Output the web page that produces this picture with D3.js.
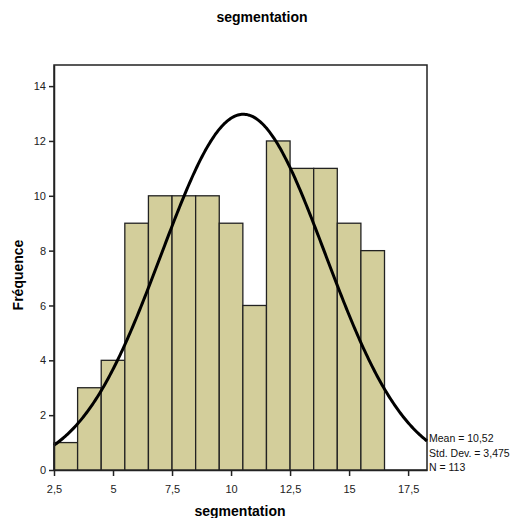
<!DOCTYPE html>
<html><head><meta charset="utf-8">
<script src="https://cdn.jsdelivr.net/npm/d3@7"></script>
<style>body{margin:0;background:#fff;}svg{display:block;font-family:"Liberation Sans",Arial,sans-serif;}</style>
</head><body>
<script>
const binStarts = [2.5,3.5,4.5,5.5,6.5,7.5,8.5,9.5,10.5,11.5,12.5,13.5,14.5,15.5];
const counts = [1,3,4,9,10,10,10,9,6,12,11,11,9,8];
const binWidth = 1;
const xTicks = [2.5,5,7.5,10,12.5,15,17.5];
const yTicks = [0,2,4,6,8,10,12,14];
const mean = 10.52, sd = 3.475, n = 113;
const statLines = ["Mean = 10,52","Std. Dev. = 3,475","N = 113"];

const W=526,H=518;
const svg=d3.select("body").append("svg").attr("width",W).attr("height",H);
const L=54,R=427,T=65,B=470;
const x=d3.scaleLinear().domain([2.5,18.3]).range([L,R]);
const y=d3.scaleLinear().domain([0,14.77]).range([B,T]);
const fmt=d=>String(d).replace(".",",");

svg.append("rect").attr("x",L).attr("y",T).attr("width",R-L).attr("height",B-T)
  .attr("fill","#fff").attr("stroke","#222").attr("stroke-width",1.5);

svg.selectAll("rect.bar").data(binStarts).enter().append("rect").attr("class","bar")
  .attr("x",d=>x(d)).attr("width",d=>x(d+binWidth)-x(d))
  .attr("y",(d,i)=>y(counts[i])).attr("height",(d,i)=>B-y(counts[i]))
  .attr("fill","#d3ce9b").attr("stroke","#222").attr("stroke-width",1.3);

const pdf=v=>n*binWidth/(sd*Math.sqrt(2*Math.PI))*Math.exp(-((v-mean)**2)/(2*sd*sd));
const pts=d3.range(0,301).map(i=>2.5+(18.3-2.5)*i/300);
svg.append("path").attr("d",d3.line().x(v=>x(v)).y(v=>y(pdf(v))).curve(d3.curveLinear)(pts))
  .attr("fill","none").attr("stroke","#000").attr("stroke-width",3);

const xa=svg.append("g").attr("transform",`translate(0,${B})`)
  .call(d3.axisBottom(x).tickValues(xTicks).tickFormat(fmt).tickSize(6).tickSizeOuter(0));
const ya=svg.append("g").attr("transform",`translate(${L},0)`)
  .call(d3.axisLeft(y).tickValues(yTicks).tickSize(5).tickSizeOuter(0));
[xa,ya].forEach(a=>{a.select(".domain").attr("stroke","#222").attr("stroke-width",1.5);
  a.selectAll(".tick line").attr("stroke","#222").attr("stroke-width",1.5);
  a.selectAll("text").attr("font-family","Liberation Sans, Arial, sans-serif").attr("font-size",11).attr("fill","#222");});
xa.selectAll("text").attr("dy","1.3em");

svg.append("text").attr("x",262).attr("y",22).attr("text-anchor","middle")
  .attr("font-size",14).attr("font-weight","bold").text("segmentation");
svg.append("text").attr("x",240).attr("y",516).attr("text-anchor","middle")
  .attr("font-size",14).attr("font-weight","bold").text("segmentation");
svg.append("text").attr("transform","translate(23,275) rotate(-90)").attr("text-anchor","middle")
  .attr("font-size",14).attr("font-weight","bold").text("Fréquence");
svg.selectAll("text.stat").data(statLines).enter().append("text").attr("class","stat")
  .attr("x",429).attr("y",(d,i)=>442+i*14.5).attr("font-size",10.5).attr("fill","#111").text(d=>d);
</script></body></html>
